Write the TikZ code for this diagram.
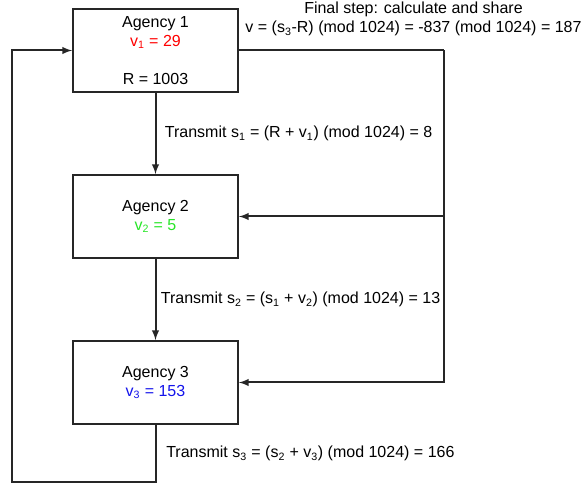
\documentclass[tikz,border=0pt]{standalone}
\usepackage{fontspec}
\setmainfont{Liberation Sans}
\usetikzlibrary{arrows}
\tikzstyle{agency} = [rectangle, minimum width=123.75pt, minimum height=62.25pt, text centered, align=center, draw=black!85, line width=1.4pt, fill=white]
\tikzstyle{link} = [draw=black!85, line width=1.5pt]
\tikzstyle{linkarrow} = [link, -latex]
\tikzstyle{note} = [align=center]

\begin{document}
\begin{tikzpicture}[x=0.75pt, y=-0.75pt, node distance=124.5pt, font=\fontsize{12}{14.25}\selectfont]
		\useasboundingbox (0,0) rectangle (587,491);
		\node (ag1) [agency] at (155.5,50.5) {Agency 1\\ \textcolor{red}{v\textsubscript{1} = 29}\\ \mbox{}\\ R = 1003};
		\node (ag2) [agency, below of = ag1] {Agency 2\\ \textcolor[RGB]{40,230,40}{v\textsubscript{2} = 5}};
		\node (ag3) [agency, below of = ag2] {Agency 3\\ \textcolor[RGB]{20,20,235}{v\textsubscript{3} = 153}};
		\node (share) [note] at (413.5,19) {Final step: calculate and share\\ v = (s\textsubscript{3}-R) (mod 1024) = -837 (mod 1024) = 187};
		\coordinate (turn) at (443.5,50.5);
		\coordinate (low) at (11.5,482);
		\draw [linkarrow] (ag1) -- node[right, xshift=3pt] {Transmit s\textsubscript{1} = (R + v\textsubscript{1}) (mod 1024) = 8} (ag2);
		\draw [linkarrow] (ag2) -- node[right] {Transmit s\textsubscript{2} = (s\textsubscript{1} + v\textsubscript{2}) (mod 1024) = 13} (ag3);
		\draw [linkarrow] (ag3) |- node[pos=0.25, right, xshift=4pt] {Transmit s\textsubscript{3} = (s\textsubscript{2} + v\textsubscript{3}) (mod 1024) = 166} (low) |- (ag1);
		\draw [link] (ag1) -- (turn);
		\draw [linkarrow] (turn) |- (ag2);
		\draw [linkarrow] (turn) |- (ag3);
	\end{tikzpicture}
\end{document}
